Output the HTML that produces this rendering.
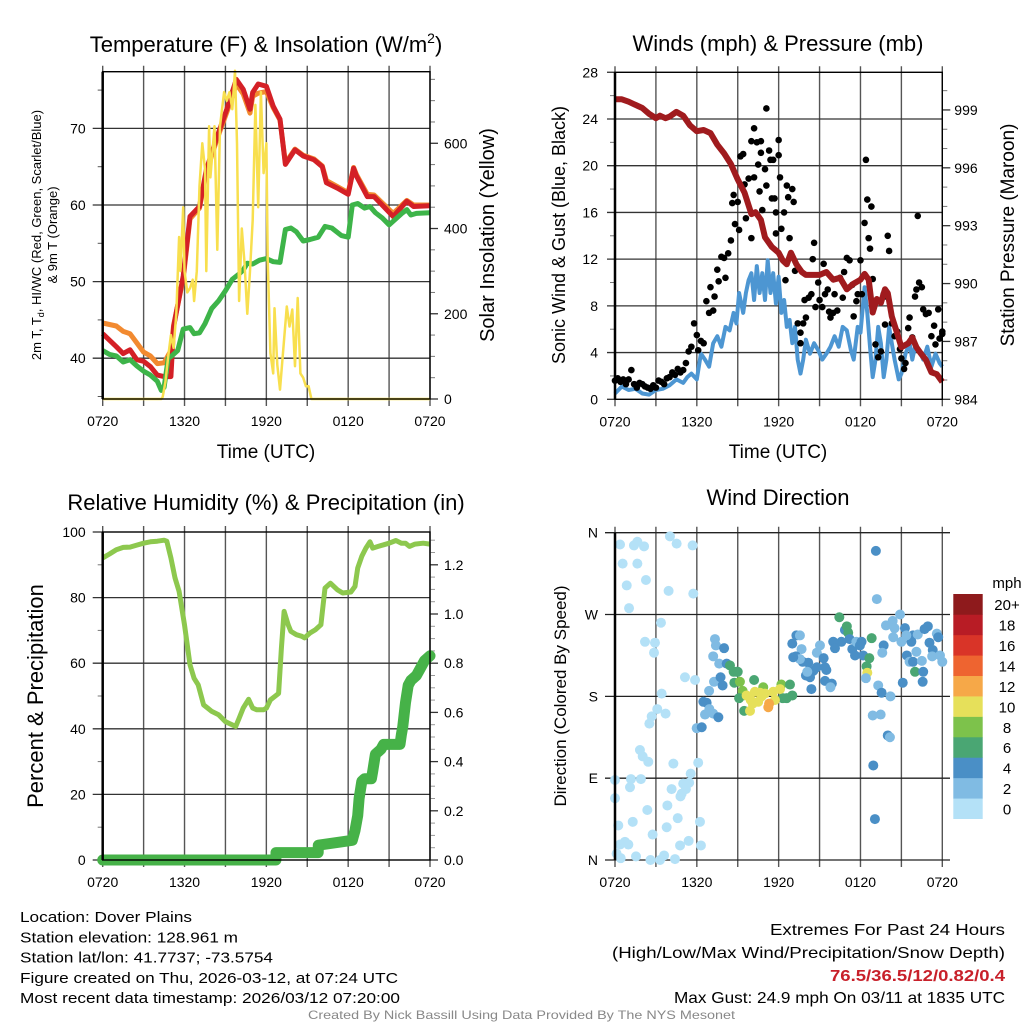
<!DOCTYPE html>
<html><head><meta charset="utf-8"><style>
html,body{margin:0;padding:0;background:#fff;width:1024px;height:1024px;overflow:hidden}
svg{display:block;font-family:"Liberation Sans",sans-serif}
</style></head><body>
<svg id="c" width="1024" height="1024" viewBox="0 0 1024 1024"></svg>
<script>
// ---- Panel 1 data ----
const tHours=[0,1,1.5,2,2.5,3,3.5,4,4.5,5,5.2,5.9,6.4,7.1,7.6,8.4,9.1,9.8,10.3,10.8,11,11.4,12,12.5,13,13.4,14.1,14.7,15.5,16.1,16.4,17.2,18,18.4,18.6,19.4,19.9,20.6,21.3,22.3,22.8,24];
const tempRed=[43.2,41.5,40.6,41.1,39.8,39.6,38.9,37.8,37.6,37.6,44.1,50.7,58.5,59.8,64.6,69,72.5,76.4,75.1,72.5,74.7,75.8,75.5,72.9,71.2,65.3,67.2,66.4,65.9,65,62.9,62.2,61.4,64.8,63.8,61.1,61.1,59.8,58.5,60.5,59.8,59.9];
const tempOrange=[44.6,44.2,43.5,43.2,42,40.8,40.3,39.3,39.4,41,44.3,50.4,58.2,59.6,64.3,68.7,72.1,75.8,74.5,72,74.2,74.6,74.8,72.7,71.1,65.5,67.3,66.5,66,65.1,63.2,62.4,61.6,64.9,64,61.4,61.3,60.1,58.9,60.6,60,60];
const dewHours=[0,0.5,1,1.5,2,2.5,3,3.5,4,4.3,4.5,4.8,5,5.5,5.9,6.4,6.7,7.1,7.5,8,8.5,9,9.5,10,10.3,10.6,11,11.5,12,12.5,13,13.4,13.8,14.2,14.7,15.2,15.8,16.3,16.8,17.5,18,18.3,18.7,19.2,19.6,20,20.5,21,21.5,22,22.3,22.6,23,24];
const dewGreen=[41,40.5,40.3,39.5,39.8,39,38.3,37.8,37,35.8,36.2,40,40.2,41,43.8,44,43.2,43.3,44.5,46.5,47.5,48.8,50.3,51,51.5,52.4,52.3,52.8,53,52.6,52.5,56.8,57,56.5,55.3,55.5,55.8,57.2,57,56,55.8,60,60.2,59.6,59.8,59,58.3,57.4,58.2,59,59.4,58.7,58.9,59];
const solHours=[0,4.3,4.4,4.6,4.8,5,5.2,5.4,5.6,5.7,5.9,6,6.2,6.4,6.6,6.7,6.9,7.1,7.3,7.5,7.6,7.8,7.9,8.2,8.4,8.6,8.9,9.1,9.3,9.5,9.7,9.85,10,10.2,10.4,10.6,10.8,11,11.2,11.4,11.6,11.8,12,12.1,12.3,12.5,12.6,12.8,13,13.2,13.5,13.7,13.9,14.1,14.3,14.5,14.7,14.9,15.1,15.3,24];
const solar=[0,0,5,40,100,150,120,200,380,300,450,300,250,260,280,230,300,500,600,540,300,640,520,640,350,640,720,700,720,680,770,600,230,400,320,200,300,420,690,450,720,530,600,327,108,60,213,80,22,100,217,170,210,77,237,60,50,30,30,0,0];
const p1Ticks=[40,50,60,70];const solTicks=[0,200,400,600];
const timeLabels=["0720","1320","1920","0120","0720"];
// ---- Panel 2 data ----
const presHours=[0,0.5,1,1.5,2,2.5,3,3.3,3.7,4,4.5,5,5.5,6,6.5,7,7.5,8,8.5,9,9.5,10,10.3,10.7,11,11.5,12,12.3,12.6,12.9,13.3,13.7,14,14.5,15,15.5,16,16.5,17,17.5,18,18.3,18.6,18.9,19.2,19.5,19.8,20,20.3,20.7,21,21.5,21.8,22.1,22.4,22.8,23.2,23.6,24];
const pressure=[999.55,999.55,999.43,999.26,999.1,998.8,998.57,998.7,998.57,998.65,998.9,998.7,998.2,997.9,997.96,997.8,997.2,996.75,996.2,995.4,994.7,993.6,993.7,993.3,992.4,991.9,991.6,991.2,991,991.6,991,990.6,990.45,990.45,990.45,990.6,990.2,990.3,989.7,990,990.2,990.5,990.2,988.5,989.2,989,989.7,989.5,988.3,987.4,986.7,986.9,987.2,986.7,986.4,986.04,985.4,985.3,984.9];
const windHours=[0,0.5,1,1.5,2,2.5,3,3.5,4,4.5,5,5.3,5.6,6,6.3,6.6,6.9,7.2,7.5,7.8,8.1,8.4,8.7,8.9,9.1,9.4,9.6,9.8,10,10.2,10.4,10.6,10.8,11,11.2,11.4,11.6,11.8,12,12.2,12.4,12.6,12.8,13,13.2,13.4,13.6,13.8,14,14.3,14.6,14.9,15.2,15.5,15.8,16.1,16.4,16.7,17,17.3,17.5,17.8,18,18.3,18.5,18.7,18.9,19.1,19.3,19.5,19.7,19.9,20.1,20.3,20.5,20.8,21,21.3,21.6,21.8,22,22.3,22.6,22.9,23.2,23.5,23.8,24];
const windSpeed=[0.5,1.1,0.8,0.9,0.5,0.4,0.8,0.9,1.2,1.7,1.4,1.9,2.2,1.7,3.9,3.4,2.8,4.8,5.4,4.5,6.2,5.9,7.4,6.5,9.1,7.4,9.1,10.2,10.8,8.5,11.4,9.1,10.8,8.5,11.9,9.1,10.8,8.2,10.5,7.4,8.5,6.2,6.8,4.8,6.2,3.4,2.2,3.4,5.1,3.9,4.8,4.2,3.4,3.9,4.5,5.4,4.5,6.2,5.9,4.2,3.4,6.2,5.7,9.6,7.4,4.5,1.9,3.4,6.2,4.8,1.9,3.4,6.2,4.8,3.4,1.7,2.2,3.9,4.8,3.4,4.5,4.2,3.4,4.5,2.8,3.9,3.1,2.8];
const gustHours=[0,0.2,0.4,0.6,0.8,1,1.2,1.4,1.6,1.8,2,2.2,2.4,2.6,2.8,3,3.2,3.4,3.6,3.8,4,4.2,4.4,4.6,4.8,5,5.2,5.4,5.6,5.8,6,6.1,6.3,6.5,6.7,6.9,7,7.2,7.3,7.5,7.6,7.8,8,8.1,8.3,8.5,8.6,8.7,8.8,9,9.1,9.2,9.4,9.5,9.6,9.8,10,10,10.2,10.2,10.4,10.5,10.6,10.7,10.7,10.8,11,11.1,11.1,11.3,11.4,11.5,11.6,11.7,11.8,11.8,12,12,12.1,12.2,12.4,12.5,12.6,12.7,12.8,13,13.1,13.2,13.4,13.6,13.6,13.8,13.9,14,14.2,14.4,14.5,14.6,14.7,14.9,15,15.2,15.3,15.4,15.6,15.7,15.8,16,16.1,16.3,16.5,16.7,16.8,17,17.2,17.4,17.5,17.7,17.8,18,18.1,18.3,18.4,18.5,18.6,18.7,18.8,18.9,19.1,19.3,19.5,19.7,19.8,19.9,20,20.1,20.3,20.5,20.7,20.9,21,21.2,21.3,21.5,21.6,21.8,22,22.1,22.2,22.3,22.5,22.6,22.8,23,23.2,23.4,23.5,23.7,23.8,24,24];
const gustSpeed=[1.6,1.8,1.5,1.7,1.3,1.7,2.5,1.3,1,1.4,1.3,1.1,1,0.9,1.2,1,1.6,1.5,1.3,1.8,1.9,2.3,2.1,2.6,2.3,2.5,3.1,4.1,4.5,6.5,5.5,4.2,5,4.8,8.4,7.4,9.6,7.6,8.8,11.1,10.1,12.2,12.1,10.4,12.5,13.6,16.8,17.5,15,16.9,14.5,20.8,21,18.4,15.5,18.9,22.1,13.8,23.2,19,22,20.1,17.8,22.1,21.1,16.2,19.7,24.9,18.3,21.3,20.5,17.2,20.5,17.2,14.2,16,20.9,22.2,19,14.6,16,10.2,18.3,17.3,13.8,18,16.9,11,6.5,5.7,4.8,6.5,8.5,7,8.7,9,12,13.4,7.9,10,8.5,7.9,11.6,9,9.4,7.5,7,7.4,9,7.6,10.4,8.7,10.9,12.1,11.9,9.8,7.1,8.4,9,11.9,9,15.1,20.5,17.1,13.8,12.9,16.5,10.3,4.7,3.6,4.1,9,6.4,8.8,14,12.7,6.5,5.4,5.8,4.3,3.5,2.6,3.1,6.1,7,5.3,8.8,9.4,15.7,10,9.6,7.7,7.3,7.4,5.4,6.3,4.7,7.7,5.2,5.8,5.6];
const windTicks=[0,4,8,12,16,20,24,28];const presTicks=[984,987,990,993,996,999];
// ---- Panel 3 data ----
const rhHours=[0,0.5,1,1.5,2,2.5,3,3.5,4,4.5,4.7,5,5.3,5.6,6,6.4,6.7,7,7.4,7.7,8,8.5,9,9.5,9.75,10,10.3,10.7,11,11.3,11.8,12,12.3,12.6,12.9,13.1,13.3,13.6,13.8,14.2,14.6,14.8,15.2,15.6,16,16.3,16.7,17.2,17.6,18.2,18.5,18.7,19,19.3,19.6,19.8,20.2,20.6,21,21.5,21.9,22.2,22.5,22.9,23.5,24];
const rh=[92.1,93.3,94.6,95.3,95.4,96,96.6,97,97.2,97.5,97.2,92.1,86,81.9,71.7,59.5,55.4,53.4,47.3,46.3,45.3,44.3,42.2,41.2,40.7,43.2,46.3,49,46.3,45.8,45.8,46.3,48.8,49.8,50.8,64.6,75.8,71.7,69.7,68.7,68.2,67.7,69.2,70.2,71.7,82.9,84.4,82.4,81.4,81.7,83.4,89,92.6,95.1,97,95.1,95.6,96.1,96.6,97.4,96.6,96.6,95.6,96.3,96.6,96.3];
const precHours=[0,12.7,12.71,15.8,15.81,18.3,18.5,18.7,18.8,19,19.2,19.7,19.8,20,20.4,20.6,21.8,21.9,22,22.1,22.2,22.4,22.6,23,23.3,23.6,24];
const precip=[0,0,0.03,0.03,0.06,0.08,0.12,0.18,0.25,0.32,0.33,0.33,0.36,0.43,0.45,0.47,0.47,0.51,0.54,0.59,0.64,0.71,0.73,0.75,0.78,0.81,0.83];
const rhTicks=[0,20,40,60,80,100];const precTicks=[0,0.2,0.4,0.6,0.8,1.0,1.2];
// ---- Panel 4 data ----
const dirHours=[0.37,0.56,0.86,1.03,1.39,1.64,1.64,2.13,2.27,4.03,4.52,3.93,5.69,5.74,3.37,2.2,2.93,2.86,5.13,5.87,3.42,3.1,2.69,2.52,3.71,1.83,2.03,2.44,4.28,5.99,6.1,5.55,0,0,1.17,1.9,1.1,1.3,2.37,0.24,0.37,0.73,0.98,1.54,0.12,0.42,2.76,2.6,3.3,3.6,3.79,4.4,3.84,4.15,4.6,4.77,5.4,6.23,6.3,5,5.2,5.44,4.89,4.8,6.72,6.6,6.48,6.92,7.2,7.58,6.36,6.9,7.26,7.2,7.4,7.33,8,7.64,7.74,7.89,8.19,8.43,8.7,8.9,8.75,9,9.16,9.36,9.4,9.1,9.47,10.2,10.87,12.2,12.83,13,12.59,12.3,9.65,9.95,9.9,10.26,10.63,10.5,11,11.6,11.73,12.1,10.1,10.75,11.24,11.3,13.3,13.56,13.68,13.27,13.76,14.17,14,14.3,14.54,14.8,14.8,15.03,15.3,15.4,15.5,15.4,15.9,15.8,14.4,13.56,13.07,13,14.1,16,16.13,16.45,16.6,16.86,17,17.1,17.2,17.4,17.6,17.7,17.96,18.08,18.2,18.45,18.65,18.82,18.5,18.4,19.13,19.2,19.3,19.55,20.2,18.9,19.48,20,20.16,18.94,19.06,19.87,20.36,20.5,20.9,21.26,20.4,21,19.7,19.6,21.4,21.6,22.1,22,21.85,22.5,22.6,22.56,21.85,22.2,22.7,22.94,23.06,23.3,23.26,23.6,23.7,23.83,24,21.1,21.73,21.36];
const dirDeg=[347,326,302,277,346,350,326,345,308,356,348,296,346,293,261,240,239,228,201,198,183,166,158,150,161,121,114,108,106,145,107,95,88,68,89,89,80,42,55,38,17,20,17,4,7,2,28,0,0,5,36,1,60,78,46,16,21,42,16,84,78,85,73,70,173,160,174,166,161,157,146,186,196,224,236,243,233,216,201,192,216,214,207,207,195,207,196,186,181,178,164,198,190,193,193,181,178,178,181,176,164,185,184,174,183,185,176,188,172,180,168,172,247,247,232,224,218,217,203,201,208,228,212,236,222,212,209,197,194,190,188,221,223,238,207,240,233,267,240,253,257,250,243,232,225,240,236,240,225,213,222,244,206,200,340,287,192,184,180,159,160,137,135,104,45,258,263,255,270,255,245,240,236,228,225,218,229,207,218,219,207,196,247,248,254,257,239,231,224,249,245,225,218,195,240,247];
const dirSpeed=[1,1,1,1,1,1,1,1,1,1,1,1,1,1,1,1,1,1,1,1,1,1,1,1,1,1,1,1,1,3,1,1,1,1,1,1,1,1,1,1,1,1,1,1,1,1,1,1,1,1,1,1,1,1,1,1,1,1,1,1,1,1,1,1,5,3,5,3,3,5,5,3,3,3,3,3,5,3,5,5,5,7,7,7,7,7,9,9,9,7,7,7,9,9,7,7,7,7,11,11,11,11,11,11,11,11,11,11,11,11,13,13,5,3,3,5,5,5,5,5,5,3,5,3,5,5,5,5,5,3,5,3,5,5,3,5,5,7,5,5,7,7,5,5,5,3,5,5,5,7,7,7,11,3,5,3,3,5,3,3,3,5,3,5,5,3,3,3,3,5,3,3,5,3,5,3,3,7,5,3,5,5,5,3,5,5,5,5,3,3,5,3,3,5,5,3,3,3,3,5,3];
const dirLabels=["N","E","S","W","N"];
const cbLabels=["0","2","4","6","8","10","12","14","16","18","20+"];
const cbColors=["#b4e1f7","#80bbe3","#4a8fc6","#4aa673","#7dc24b","#e6e05a","#f6a848","#ee6430","#d93428","#b81c25","#8e1a1c"];

const NS="http://www.w3.org/2000/svg";const svg=document.getElementById('c');
function mk(tag,attrs,parent){const e=document.createElementNS(NS,tag);for(const k in attrs)e.setAttribute(k,attrs[k]);(parent||svg).appendChild(e);return e;}
function txt(s,x,y,size,anchor,parent,extra){const e=mk('text',Object.assign({x:x,y:y,'font-size':size,'text-anchor':anchor||'middle',fill:'#000'},extra||{}),parent);e.textContent=s;return e;}
function grp(name){const g=mk('g',{});return g;}

function frame(g,L,R,T,B){
  for(let k=0;k<=8;k++){const x=L+(R-L)*k/8;const l=mk('line',{x1:x,x2:x,y1:T-6,y2:B+7,stroke:'#555','stroke-width':1.4},g);}
  timeLabels.forEach((s,i)=>{const t=txt(s,L+(R-L)*i/4,B+27,14,'middle',g);});
}
function box(g,L,R,T,B){const r=mk('rect',{x:L,y:T,width:R-L,height:B-T,fill:'none',stroke:'#000','stroke-width':1.4},g);mk('line',{x1:L,x2:L,y1:T,y2:B,stroke:'#000','stroke-width':2.5},g);}
function path(pts){return pts.map((p,i)=>(i?'L':'M')+p[0].toFixed(1)+','+p[1].toFixed(1)).join('');}

// ===== Panel 1 =====
(function(){
const g=grp('temperature-panel');const L=102.7,R=430,T=71.7,B=399;
const xs=h=>L+(R-L)*h/24;const yT=v=>205-(v-60)*7.66;const yS=v=>399-v*0.4262;
frame(g,L,R,T,B);
p1Ticks.forEach(v=>{const l=mk('line',{x1:L-10,x2:R,y1:yT(v),y2:yT(v),stroke:'#333','stroke-width':1.3},g);const t=txt(String(v),L-17,yT(v)+5,14,'end',g);});
for(let v=35;v<=77;v+=5){if(v%10)mk('line',{x1:L-5,x2:L,y1:yT(v),y2:yT(v),stroke:'#555'},g);}
solTicks.forEach(v=>{mk('line',{x1:R,x2:R+8,y1:yS(v),y2:yS(v),stroke:'#333','stroke-width':1.3},g);const t=txt(String(v),R+14,yS(v)+5,14,'start',g);});
for(let v=50;v<=750;v+=50){if(v%200)mk('line',{x1:R,x2:R+5,y1:yS(v),y2:yS(v),stroke:'#777'},g);}
const o=mk('path',{d:path(tHours.map((h,i)=>[xs(h),yT(tempOrange[i])])),fill:'none',stroke:'#f28a30','stroke-width':5,'stroke-linejoin':'round'},g);
const r=mk('path',{d:path(tHours.map((h,i)=>[xs(h),yT(tempRed[i])])),fill:'none',stroke:'#d42026','stroke-width':5,'stroke-linejoin':'round'},g);
const gr=mk('path',{d:path(dewHours.map((h,i)=>[xs(h),yT(dewGreen[i])])),fill:'none',stroke:'#3db449','stroke-width':5,'stroke-linejoin':'round'},g);
const s=mk('path',{d:path(solHours.map((h,i)=>[xs(h),yS(solar[i])])),fill:'none',stroke:'#f8df4e','stroke-width':2.5,'stroke-linejoin':'round'},g);
box(g,L,R,T,B);
const t1=mk('text',{x:266,y:52,'font-size':22,'text-anchor':'middle'},g);t1.innerHTML='Temperature (F) &amp; Insolation (W/m<tspan dy="-9" font-size="14">2</tspan><tspan dy="9">)</tspan>';
const xt=txt('Time (UTC)',266,458,19,'middle',g);
const ya=mk('text',{transform:'translate(41,235) rotate(-90)','font-size':13,'text-anchor':'middle'},g);ya.innerHTML='2m T, T<tspan dy="3" font-size="9">d</tspan><tspan dy="-3">, HI/WC (Red, Green, Scarlet/Blue)</tspan>';
const yb=txt('& 9m T (Orange)',0,0,13,'middle',g,{transform:'translate(57,235) rotate(-90)'});
const y2=txt('Solar Insolation (Yellow)',0,0,20,'middle',g,{transform:'translate(494,235) rotate(-90)'});
})();

// ===== Panel 2 =====
(function(){
const g=grp('wind-pressure-panel');const L=615,R=942.3,T=72.3,B=399.3;
const xs=h=>L+(R-L)*h/24;const yW=v=>B-v*11.68;const yP=v=>B-(v-984)*19.29;
frame(g,L,R,T,B);
windTicks.forEach(v=>{if(v>0&&v<28){const l=mk('line',{x1:L-8,x2:R,y1:yW(v),y2:yW(v),stroke:'#333','stroke-width':1.3},g);}else mk('line',{x1:L-8,x2:L,y1:yW(v),y2:yW(v),stroke:'#333','stroke-width':1.3},g);const t=txt(String(v),L-17,yW(v)+5,14,'end',g);});
for(let v=2;v<28;v+=4)mk('line',{x1:L-5,x2:L,y1:yW(v),y2:yW(v),stroke:'#777'},g);
presTicks.forEach(v=>{mk('line',{x1:R,x2:R+8,y1:yP(v),y2:yP(v),stroke:'#333','stroke-width':1.3},g);const t=txt(String(v),R+12,yP(v)+5,14,'start',g);});
for(let v=985;v<1001;v++){if((v-984)%3)mk('line',{x1:R,x2:R+5,y1:yP(v),y2:yP(v),stroke:'#777'},g);}
const w=mk('path',{d:path(windHours.map((h,i)=>[xs(h),yW(windSpeed[i])])),fill:'none',stroke:'#4d96d2','stroke-width':4,'stroke-linejoin':'round'},g);
gustHours.forEach((h,i)=>{const c=mk('circle',{cx:xs(h),cy:yW(gustSpeed[i]),r:3.3,fill:'#000'},g);});
const p=mk('path',{d:path(presHours.map((h,i)=>[xs(h),yP(pressure[i])])),fill:'none',stroke:'#a01b1e','stroke-width':6,'stroke-linejoin':'round'},g);
box(g,L,R,T,B);
const t1=txt('Winds (mph) & Pressure (mb)',778,51,22,'middle',g);
const xt=txt('Time (UTC)',778,458,19,'middle',g);
const ya=txt('Sonic Wind & Gust (Blue, Black)',0,0,18,'middle',g,{transform:'translate(565,235) rotate(-90)'});
const y2=txt('Station Pressure (Maroon)',0,0,19,'middle',g,{transform:'translate(1014,235) rotate(-90)'});
})();

// ===== Panel 3 =====
(function(){
const g=grp('humidity-precip-panel');const L=102.7,R=430,T=532,B=860;
const xs=h=>L+(R-L)*h/24;const yR=v=>B-v*3.28;const yP=v=>B-v*246;
frame(g,L,R,T,B);
rhTicks.forEach(v=>{if(v>0&&v<100){const l=mk('line',{x1:L-10,x2:R,y1:yR(v),y2:yR(v),stroke:'#333','stroke-width':1.3},g);}else mk('line',{x1:L-10,x2:L,y1:yR(v),y2:yR(v),stroke:'#333','stroke-width':1.3},g);const t=txt(String(v),L-17,yR(v)+5,14,'end',g);});
for(let v=10;v<100;v+=20)mk('line',{x1:L-5,x2:L,y1:yR(v),y2:yR(v),stroke:'#777'},g);
precTicks.forEach(v=>{mk('line',{x1:R,x2:R+8,y1:yP(v),y2:yP(v),stroke:'#333','stroke-width':1.3},g);const t=txt(v.toFixed(1),R+14,yP(v)+5,14,'start',g);});
for(let v=0.05;v<1.33;v+=0.05){if(Math.abs(v*5-Math.round(v*5))>0.01)mk('line',{x1:R,x2:R+5,y1:yP(v),y2:yP(v),stroke:'#999'},g);}
const pr=mk('path',{d:path(precHours.map((h,i)=>[xs(h),yP(precip[i])])),fill:'none',stroke:'#46b248','stroke-width':11,'stroke-linecap':'round','stroke-linejoin':'round'},g);
const r=mk('path',{d:path(rhHours.map((h,i)=>[xs(h),yR(rh[i])])),fill:'none',stroke:'#8dc84e','stroke-width':5,'stroke-linejoin':'round'},g);
box(g,L,R,T,B);
const t1=txt('Relative Humidity (%) & Precipitation (in)',266,510,22,'middle',g);
const ya=txt('Percent & Precipitation',0,0,22,'middle',g,{transform:'translate(43,696) rotate(-90)'});
})();

// ===== Panel 4 =====
(function(){
const g=grp('wind-direction-panel');const L=615,R=942.3,T=532.7,B=860;
const xs=h=>L+(R-L)*h/24;const yD=v=>B-v*(B-T)/360;
frame(g,L,R,T,B);
dirLabels.forEach((s,i)=>{const y=yD(i*90);const l=mk('line',{x1:L-10,x2:950,y1:y,y2:y,stroke:'#222','stroke-width':1.3},g);const t=txt(s,L-17,y+5,14,'end',g);});
dirHours.forEach((h,i)=>{const sp=dirSpeed[i];const ci=Math.min(10,Math.floor(sp/2));const c=mk('circle',{cx:xs(h),cy:yD(dirDeg[i]),r:5,fill:cbColors[ci]},g);});
mk('line',{x1:L,x2:L,y1:T,y2:B,stroke:'#000','stroke-width':2.5},g);
const t1=txt('Wind Direction',778,505,22,'middle',g);
const ya=txt('Direction (Colored By Speed)',0,0,17,'middle',g,{transform:'translate(566,696) rotate(-90)'});
const cb=grp('speed-colorbar');g.appendChild(cb);
const cbT=594,cbH=224.7/11;
cbLabels.forEach((s,i)=>{const y=cbT+(10-i)*cbH;const r=mk('rect',{x:953.3,y:y,width:29.4,height:cbH+0.3,fill:cbColors[i]},cb);const t=txt(s,1007,y+cbH/2+6,15,'middle',cb);});
const u=txt('mph',1007,588,15,'middle',cb);
})();

// ===== Footer =====
(function(){
const g=grp('footer');
const left=[["Location: Dover Plains",172],["Station elevation: 128.961 m",218],["Station lat/lon: 41.7737; -73.5754",253],["Figure created on Thu, 2026-03-12, at 07:24 UTC",378],["Most recent data timestamp: 2026/03/12 07:20:00",380]];
left.forEach((a,i)=>{const t=txt(a[0],20,922+i*20.3,15,'start',g,{textLength:a[1],lengthAdjust:'spacingAndGlyphs'});});
const right=[["Extremes For Past 24 Hours",235,935,'#000','normal'],["(High/Low/Max Wind/Precipitation/Snow Depth)",393,958,'#000','normal'],["76.5/36.5/12/0.82/0.4",175,981,'#c8202a','bold'],["Max Gust: 24.9 mph On 03/11 at 1835 UTC",331,1003,'#000','normal']];
right.forEach(a=>{const t=txt(a[0],1005-a[1],a[2],16,'start',g,{textLength:a[1],lengthAdjust:'spacingAndGlyphs',fill:a[3],'font-weight':a[4]});});
const c=txt('Created By Nick Bassill Using Data Provided By The NYS Mesonet',308,1019,12,'start',g,{textLength:427,lengthAdjust:'spacingAndGlyphs',fill:'#888'});
})();
</script>
</body></html>
